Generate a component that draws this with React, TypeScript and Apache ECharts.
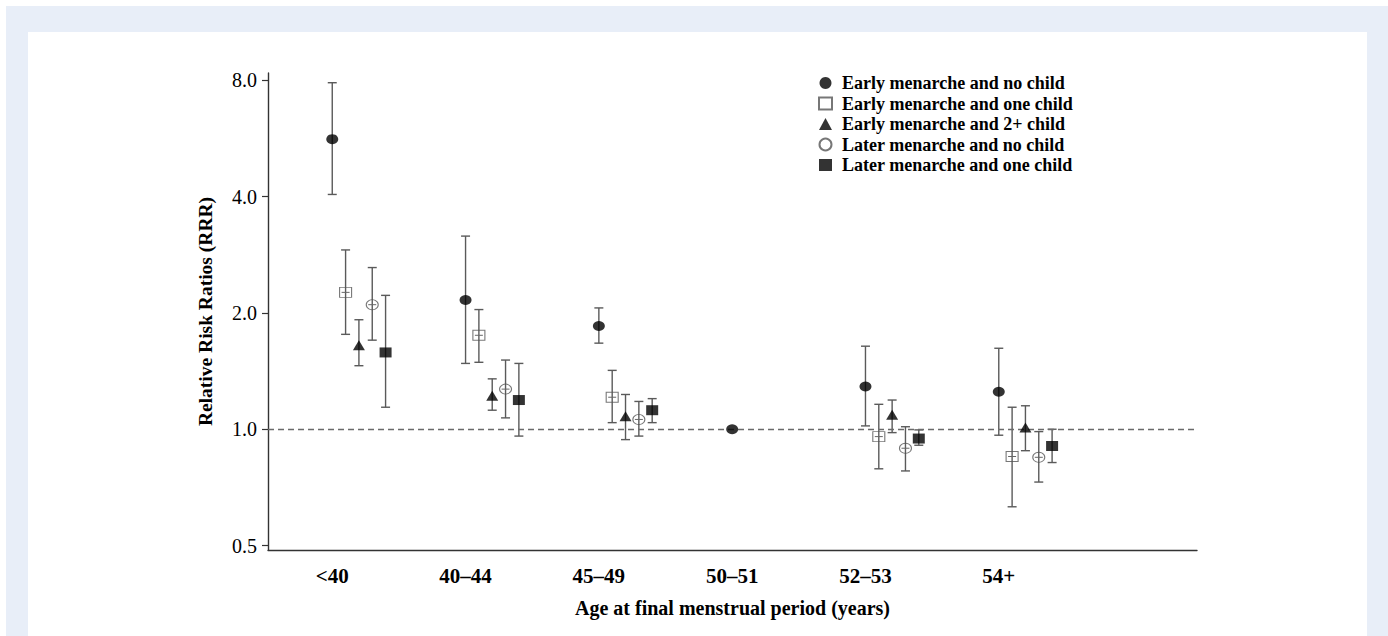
import React, { useEffect, useRef } from "react";
import * as echarts from "echarts";

const categories = ["<40", "40–44", "45–49", "50–51", "52–53", "54+"];
const seriesNames = [
  "Early menarche and no child",
  "Early menarche and one child",
  "Early menarche and 2+ child",
  "Later menarche and no child",
  "Later menarche and one child",
];
const yTicks = [0.5, 1, 2, 4, 8];

const earlyNoChildMean = [5.63, 2.16, 1.85, 1.0, 1.29, 1.25];
const earlyNoChildLow = [4.05, 1.48, 1.67, null, 1.02, 0.965];
const earlyNoChildHigh = [7.88, 3.16, 2.06, null, 1.64, 1.62];

const earlyOneChildMean = [2.26, 1.75, 1.21, null, 0.957, 0.85];
const earlyOneChildLow = [1.76, 1.49, 1.04, null, 0.79, 0.63];
const earlyOneChildHigh = [2.91, 2.04, 1.42, null, 1.16, 1.14];

const earlyTwoChildMean = [1.65, 1.22, 1.08, null, 1.09, 1.01];
const earlyTwoChildLow = [1.46, 1.12, 0.94, null, 0.98, 0.88];
const earlyTwoChildHigh = [1.92, 1.35, 1.23, null, 1.19, 1.15];

const laterNoChildMean = [2.1, 1.27, 1.06, null, 0.893, 0.846];
const laterNoChildLow = [1.7, 1.07, 0.96, null, 0.78, 0.73];
const laterNoChildHigh = [2.62, 1.51, 1.18, null, 1.015, 0.986];

const laterOneChildMean = [1.58, 1.19, 1.12, null, 0.946, 0.905];
const laterOneChildLow = [1.14, 0.96, 1.04, null, 0.909, 0.82];
const laterOneChildHigh = [2.22, 1.48, 1.2, null, 0.996, 1.0];

const means = [earlyNoChildMean, earlyOneChildMean, earlyTwoChildMean, laterNoChildMean, laterOneChildMean];
const lows = [earlyNoChildLow, earlyOneChildLow, earlyTwoChildLow, laterNoChildLow, laterOneChildLow];
const highs = [earlyNoChildHigh, earlyOneChildHigh, earlyTwoChildHigh, laterNoChildHigh, laterOneChildHigh];

const DODGE = 0.1;
const FONT = "Liberation Serif";
const symbols = ["circle", "rect", "triangle", "circle", "rect"];
const filled = [true, false, true, false, true];

export default function App() {
  const ref = useRef<HTMLDivElement>(null);
  useEffect(() => {
    if (!ref.current) return;
    const chart = echarts.init(ref.current, null, { renderer: "svg" });

    const errData: any[] = [];
    means.forEach((m, k) => {
      m.forEach((v, i) => {
        const lo = lows[k][i];
        const hi = highs[k][i];
        if (v != null && lo != null && hi != null) {
          errData.push([i + k * DODGE, lo, hi, v, k]);
        }
      });
    });

    const errStroke = "#5a5a5a";
    const scatterSeries = means.map((m, k) => ({
      name: seriesNames[k],
      type: "scatter",
      symbol: symbols[k],
      symbolSize: [12, 10],
      z: 5,
      itemStyle: filled[k]
        ? { color: "#000", borderColor: "#000", borderWidth: 0 }
        : { color: "rgba(255,255,255,0)", borderColor: "#555", borderWidth: 1 },
      data: m
        .map((v, i) => (v == null ? null : [i + k * DODGE, v]))
        .filter((d) => d != null),
      ...(k === 0
        ? {
            markLine: {
              silent: true,
              symbol: ["none", "none"],
              label: { show: false },
              lineStyle: { type: [6, 4], color: "#6a6a6a", width: 1.4 },
              data: [{ yAxis: 1 }],
            },
          }
        : {}),
    }));

    const option: any = {
      animation: false,
      grid: { left: 268, right: 191, top: 73, bottom: 86 },
      legend: {
        orient: "vertical",
        left: 813,
        top: 69,
        itemWidth: 13,
        itemHeight: 12,
        itemGap: 2.5,
        data: seriesNames,
        textStyle: {
          fontFamily: FONT,
          fontWeight: "bold",
          fontSize: 18,
          color: "#000",
          lineHeight: 18,
          padding: [0, 0, 0, 5],
        },
      },
      xAxis: {
        type: "value",
        min: -0.482,
        max: 6.487,
        name: "Age at final menstrual period (years)",
        nameLocation: "middle",
        nameGap: 48,
        nameTextStyle: { fontFamily: FONT, fontWeight: "bold", fontSize: 20, color: "#000" },
        axisLine: { show: true, onZero: false, lineStyle: { color: "#333", width: 1.4 } },
        axisTick: { show: false },
        splitLine: { show: false },
        axisLabel: {
          customValues: [0, 1, 2, 3, 4, 5],
          formatter: (v: number) => categories[Math.round(v)] ?? "",
          fontFamily: FONT,
          fontWeight: "bold",
          fontSize: 21,
          color: "#000",
          margin: 15,
        },
      },
      yAxis: {
        type: "log",
        logBase: 2,
        min: 0.487,
        max: 8.35,
        name: "Relative Risk Ratios (RRR)",
        nameLocation: "middle",
        nameGap: 53,
        nameTextStyle: { fontFamily: FONT, fontWeight: "bold", fontSize: 19.5, color: "#000" },
        axisLine: { show: true, onZero: false, lineStyle: { color: "#333", width: 1.4 } },
        axisTick: { show: true, length: 6, customValues: yTicks, lineStyle: { color: "#333", width: 1.2 } },
        splitLine: { show: false },
        axisLabel: {
          customValues: yTicks,
          formatter: (v: number) => Number(v).toFixed(1),
          fontFamily: FONT,
          fontSize: 20,
          color: "#000",
          margin: 11,
        },
      },
      series: [
        {
          type: "custom",
          z: 2,
          silent: true,
          encode: { x: 0, y: [1, 2] },
          data: errData,
          renderItem: (params: any, api: any) => {
            const x = api.value(0);
            const lo = api.value(1);
            const hi = api.value(2);
            const m = api.value(3);
            const k = api.value(4);
            const pLo = api.coord([x, lo]);
            const pHi = api.coord([x, hi]);
            const w = 4.5;
            const style = { stroke: errStroke, lineWidth: 1.4 };
            const children: any[] = [
              { type: "line", shape: { x1: pLo[0], y1: pLo[1], x2: pHi[0], y2: pHi[1] }, style },
              { type: "line", shape: { x1: pLo[0] - w, y1: pLo[1], x2: pLo[0] + w, y2: pLo[1] }, style },
              { type: "line", shape: { x1: pHi[0] - w, y1: pHi[1], x2: pHi[0] + w, y2: pHi[1] }, style },
            ];
            if (k === 1 || k === 3) {
              const pm = api.coord([x, m]);
              children.push({
                type: "line",
                shape: { x1: pm[0] - 4, y1: pm[1], x2: pm[0] + 4, y2: pm[1] },
                style: { stroke: "#666", lineWidth: 1 },
              });
            }
            return { type: "group", children };
          },
        },
        ...scatterSeries,
      ],
    };
    chart.setOption(option);
    return () => chart.dispose();
  }, []);

  return (
    <div style={{ position: "fixed", left: 0, top: 0, width: 1388, height: 636, background: "#fff" }}>
      <div style={{ position: "absolute", left: 6, top: 6, right: 0, bottom: 0, background: "#e8eef8" }} />
      <div style={{ position: "absolute", left: 28, top: 32, width: 1339, bottom: 0, background: "#fff" }} />
      <div ref={ref} style={{ position: "absolute", left: 0, top: 0, width: 1388, height: 636 }} />
    </div>
  );
}
